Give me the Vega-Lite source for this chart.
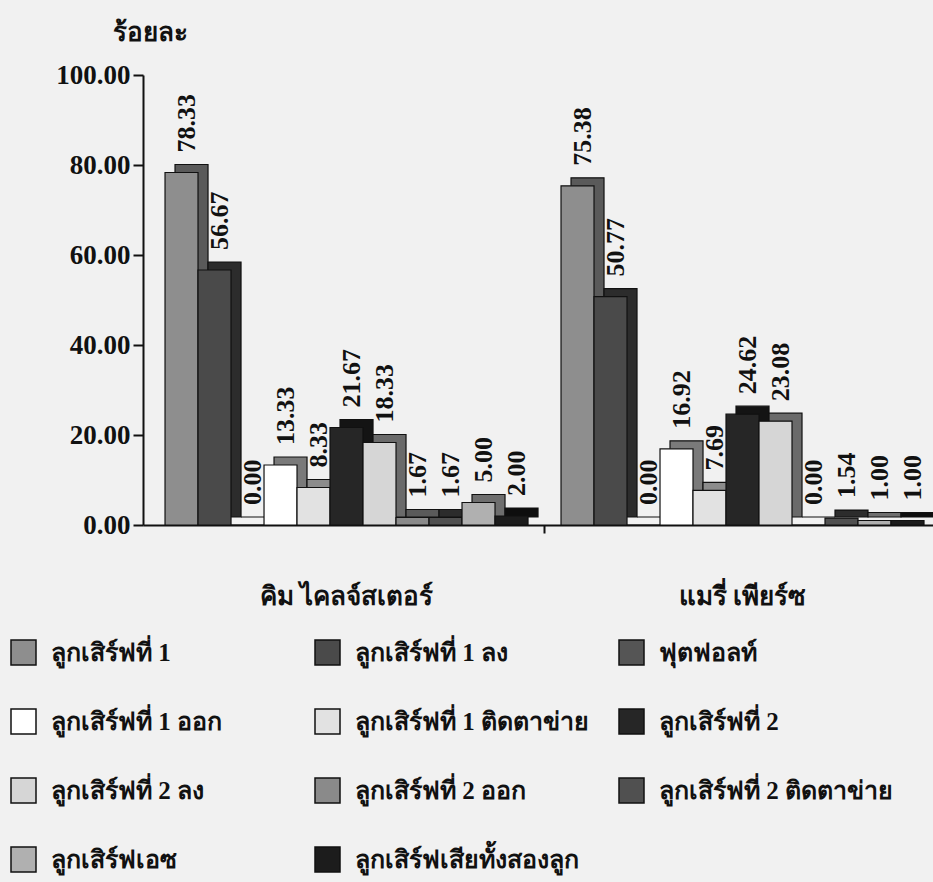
{
  "$schema": "https://vega.github.io/schema/vega-lite/v6.json",
  "autosize": {"type": "none"},
  "padding": {"left": 143, "top": 75, "right": 0, "bottom": 357},
  "width": 790,
  "height": 450,
  "background": "#f1f1f1",
  "config": {
    "view": {"stroke": null},
    "font": "Liberation Serif",
    "axis": {"domainColor": "#111", "tickColor": "#111", "domainWidth": 2, "tickWidth": 2, "grid": false}
  },
  "data": {
    "values": [
      {"key": "k01", "player": "คิม ไคลจ์สเตอร์", "series": "ลูกเสิร์ฟที่ 1", "value": 78.33},
      {"key": "k02", "player": "คิม ไคลจ์สเตอร์", "series": "ลูกเสิร์ฟที่ 1 ลง", "value": 56.67},
      {"key": "k03", "player": "คิม ไคลจ์สเตอร์", "series": "ฟุตฟอลท์", "value": 0.0},
      {"key": "k04", "player": "คิม ไคลจ์สเตอร์", "series": "ลูกเสิร์ฟที่ 1 ออก", "value": 13.33},
      {"key": "k05", "player": "คิม ไคลจ์สเตอร์", "series": "ลูกเสิร์ฟที่ 1 ติดตาข่าย", "value": 8.33},
      {"key": "k06", "player": "คิม ไคลจ์สเตอร์", "series": "ลูกเสิร์ฟที่ 2", "value": 21.67, "mid": true},
      {"key": "k07", "player": "คิม ไคลจ์สเตอร์", "series": "ลูกเสิร์ฟที่ 2 ลง", "value": 18.33},
      {"key": "k08", "player": "คิม ไคลจ์สเตอร์", "series": "ลูกเสิร์ฟที่ 2 ออก", "value": 1.67},
      {"key": "k09", "player": "คิม ไคลจ์สเตอร์", "series": "ลูกเสิร์ฟที่ 2 ติดตาข่าย", "value": 1.67},
      {"key": "k10", "player": "คิม ไคลจ์สเตอร์", "series": "ลูกเสิร์ฟเอซ", "value": 5.0},
      {"key": "k11", "player": "คิม ไคลจ์สเตอร์", "series": "ลูกเสิร์ฟเสียทั้งสองลูก", "value": 2.0},
      {"key": "m01", "player": "แมรี่ เพียร์ซ", "series": "ลูกเสิร์ฟที่ 1", "value": 75.38},
      {"key": "m02", "player": "แมรี่ เพียร์ซ", "series": "ลูกเสิร์ฟที่ 1 ลง", "value": 50.77},
      {"key": "m03", "player": "แมรี่ เพียร์ซ", "series": "ฟุตฟอลท์", "value": 0.0},
      {"key": "m04", "player": "แมรี่ เพียร์ซ", "series": "ลูกเสิร์ฟที่ 1 ออก", "value": 16.92},
      {"key": "m05", "player": "แมรี่ เพียร์ซ", "series": "ลูกเสิร์ฟที่ 1 ติดตาข่าย", "value": 7.69},
      {"key": "m06", "player": "แมรี่ เพียร์ซ", "series": "ลูกเสิร์ฟที่ 2", "value": 24.62, "mid": true},
      {"key": "m07", "player": "แมรี่ เพียร์ซ", "series": "ลูกเสิร์ฟที่ 2 ลง", "value": 23.08},
      {"key": "m08", "player": "แมรี่ เพียร์ซ", "series": "ลูกเสิร์ฟที่ 2 ออก", "value": 0.0},
      {"key": "m09", "player": "แมรี่ เพียร์ซ", "series": "ลูกเสิร์ฟที่ 2 ติดตาข่าย", "value": 1.54},
      {"key": "m10", "player": "แมรี่ เพียร์ซ", "series": "ลูกเสิร์ฟเอซ", "value": 1.0},
      {"key": "m11", "player": "แมรี่ เพียร์ซ", "series": "ลูกเสิร์ฟเสียทั้งสองลูก", "value": 1.0}
    ]
  },
  "encoding": {
    "x": {
      "field": "key", "type": "nominal",
      "scale": {
        "domain": ["k01", "k02", "k03", "k04", "k05", "k06", "k07", "k08", "k09", "k10", "k11", "gap", "m01", "m02", "m03", "m04", "m05", "m06", "m07", "m08", "m09", "m10", "m11"],
        "paddingInner": 0, "paddingOuter": 0.47, "align": 0.71
      },
      "axis": {"title": null, "labels": false, "values": ["gap"], "tickSize": 8}
    },
    "y": {
      "field": "value", "type": "quantitative",
      "scale": {"domain": [0, 100], "nice": false},
      "axis": {
        "title": "ร้อยละ", "titleAngle": 0, "titleFontSize": 26, "titleFontWeight": "bold", "titleColor": "#111",
        "titleX": 7, "titleY": -30, "titleAlign": "center", "titleBaseline": "bottom",
        "values": [0, 20, 40, 60, 80, 100], "format": ".2f",
        "labelFontSize": 27, "labelFontWeight": "bold", "labelColor": "#111", "tickSize": 10, "labelPadding": 3
      }
    }
  },
  "layer": [
    {
      "mark": {"type": "bar", "stroke": "#111", "strokeWidth": 1.2, "xOffset": 10, "yOffset": -8, "y2Offset": -8},
      "encoding": {
        "color": {"field": "series", "type": "nominal", "legend": null,
          "scale": {
            "domain": ["ลูกเสิร์ฟที่ 1", "ลูกเสิร์ฟที่ 1 ลง", "ฟุตฟอลท์", "ลูกเสิร์ฟที่ 1 ออก", "ลูกเสิร์ฟที่ 1 ติดตาข่าย", "ลูกเสิร์ฟที่ 2", "ลูกเสิร์ฟที่ 2 ลง", "ลูกเสิร์ฟที่ 2 ออก", "ลูกเสิร์ฟที่ 2 ติดตาข่าย", "ลูกเสิร์ฟเอซ", "ลูกเสิร์ฟเสียทั้งสองลูก"],
            "range": ["#5a5a5a", "#2c2c2c", "#303030", "#7a7a7a", "#8c8c8c", "#141414", "#6a6a6a", "#5a5a5a", "#2c2c2c", "#6e6e6e", "#0e0e0e"]
          }
        }
      }
    },
    {
      "mark": {"type": "bar", "stroke": "#111", "strokeWidth": 1.2},
      "encoding": {
        "color": {"field": "series", "type": "nominal",
          "scale": {
            "domain": ["ลูกเสิร์ฟที่ 1", "ลูกเสิร์ฟที่ 1 ลง", "ฟุตฟอลท์", "ลูกเสิร์ฟที่ 1 ออก", "ลูกเสิร์ฟที่ 1 ติดตาข่าย", "ลูกเสิร์ฟที่ 2", "ลูกเสิร์ฟที่ 2 ลง", "ลูกเสิร์ฟที่ 2 ออก", "ลูกเสิร์ฟที่ 2 ติดตาข่าย", "ลูกเสิร์ฟเอซ", "ลูกเสิร์ฟเสียทั้งสองลูก"],
            "range": ["#8e8e8e", "#4a4a4a", "#555555", "#ffffff", "#e2e2e2", "#262626", "#d6d6d6", "#8a8a8a", "#505050", "#b0b0b0", "#1c1c1c"]
          },
          "legend": {
            "title": null, "orient": "none", "legendX": -133, "legendY": 564,
            "direction": "horizontal", "columns": 3, "gridAlign": "all", "symbolType": "square", "symbolSize": 625,
            "symbolStrokeColor": "#111", "symbolStrokeWidth": 1.5,
            "labelFontSize": 25, "labelFontWeight": "bold", "labelColor": "#111", "labelLimit": 400,
            "rowPadding": 38, "columnPadding": 27, "labelOffset": 14
          }
        }
      }
    },
    {
      "mark": {"type": "text", "angle": 270, "align": "left", "baseline": "middle", "dx": 20, "dy": 5, "fontSize": 26, "fontWeight": "bold", "color": "#111"},
      "encoding": {
        "text": {"field": "value", "type": "quantitative", "format": ".2f"}
      }
    },
    {
      "transform": [{"filter": "datum.mid === true"}],
      "mark": {"type": "text", "align": "center", "baseline": "middle", "dy": 72, "fontSize": 26, "fontWeight": "bold", "color": "#111"},
      "encoding": {
        "y": {"datum": 0},
        "text": {"field": "player", "type": "nominal"}
      }
    }
  ],
  "resolve": {"scale": {"color": "independent"}, "legend": {"color": "independent"}}
}
